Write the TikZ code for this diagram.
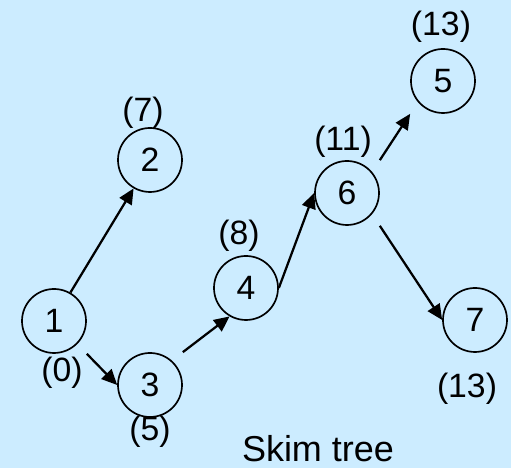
\documentclass[tikz,border=0pt]{standalone}
\usepackage{fontspec}
\setmainfont{Liberation Sans}
\usetikzlibrary{arrows.meta,positioning}
\definecolor{skyback}{RGB}{204,236,255}

\begin{document}
\begin{tikzpicture}[vertex/.style={draw, circle, line width=1.2pt, minimum size=1.6cm, inner sep=0pt,
    font=\fontsize{24}{28}\selectfont},
  cost/.style={inner sep=0pt, font=\fontsize{24}{28}\selectfont},
  edge/.style={line width=1.6pt, -{Triangle[length=11pt, width=10pt]}}]
\fill[skyback] (0,0) rectangle (12.775,11.7);
\useasboundingbox (0,0) rectangle (12.775,11.7);
\node[vertex] (n1) at (1.35,3.675) {1};
\node[vertex] (n2) at (3.75,7.7) {2};
\node[vertex] (n3) at (3.75,2.075) {3};
\node[vertex] (n4) at (6.15,4.5) {4};
\node[vertex] (n6) at (8.675,6.875) {6};
\node[vertex] (n5) at (11.075,9.675) {5};
\node[vertex] (n7) at (11.875,3.7) {7};
\node[cost] (c1) at (1.55,2.375) {(0)};
\node[cost] (c2) at (3.575,8.875) {(7)};
\node[cost] (c3) at (3.75,0.9) {(5)};
\node[cost] (c4) at (5.975,5.8) {(8)};
\node[cost] (c6) at (8.575,8.15) {(11)};
\node[cost] (c5) at (11.025,11.025) {(13)};
\node[cost] (c7) at (11.675,1.975) {(13)};
\draw[edge] (n1.60) -- (n2.240);
\draw[edge] (n1.south -| n1.east) -- (n3.west);
\draw[edge] (n3.north -| n3.east) -- (n4.240);
\draw[edge] (n4.east) -- (n6.west);
\draw[edge] (n6.north -| n6.east) -- (n5.south -| n5.west);
\draw[edge] (n6.south -| n6.east) -- (n7.west);
\node[anchor=base, font=\fontsize{25.6}{30}\selectfont] (title) at (7.95,0.15) {Skim tree};
\end{tikzpicture}
\end{document}
